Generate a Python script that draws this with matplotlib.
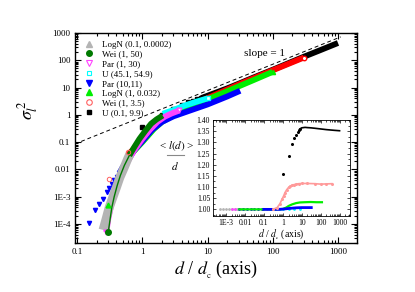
import matplotlib
matplotlib.use("Agg")
import matplotlib.pyplot as plt
from matplotlib.lines import Line2D
from matplotlib.ticker import LogLocator, FixedLocator, FixedFormatter, MultipleLocator, NullFormatter

plt.rcParams['font.family'] = ['Liberation Serif', 'DejaVu Serif']
plt.rcParams['mathtext.fontset'] = 'stix'

# ---- main plot data (sigma_l^2 vs d/d_c) ----
gray_x = [0.25, 0.28, 0.31, 0.35, 0.40, 0.45, 0.52, 0.60, 0.64]
gray_y = [6e-5, 1.6e-4, 4e-4, 9e-4, 2.2e-3, 5e-3, 0.011, 0.025, 0.035]

wei50_x = [0.30, 0.32, 0.34, 0.37, 0.41, 0.46, 0.53, 0.63, 0.75, 0.90, 1.1, 1.36, 1.65, 2.05]
wei50_y = [5e-5, 1.5e-4, 4e-4, 1e-3, 2.5e-3, 6e-3, 0.014, 0.032, 0.065, 0.13, 0.25, 0.47, 0.68, 0.94]

par130_x = [0.28, 0.30, 0.33, 0.37, 0.42, 0.50, 0.60, 0.75, 1.0, 1.3, 1.7, 2.2, 2.8, 3.7]
par130_y = [5e-5, 1.5e-4, 4.5e-4, 1.2e-3, 3e-3, 8e-3, 0.02, 0.05, 0.13, 0.28, 0.55, 0.85, 1.12, 1.44]

u45_x = [2.05, 3.0, 4.4, 6.5, 10.0]
u45_y = [1.09, 1.5, 2.17, 2.95, 4.0]

par1011_sx = [0.154, 0.189, 0.22, 0.25, 0.285, 0.313, 0.344, 0.372, 0.406, 0.445]
par1011_sy = [1.07e-4, 3.1e-4, 5.2e-4, 8.2e-4, 1.5e-3, 2.1e-3, 3e-3, 3.9e-3, 5.2e-3, 7.3e-3]
par1011_x = [0.445, 0.5, 0.6, 0.75, 1.0, 1.4, 2.0, 3.0, 5.0, 10.0, 20.0, 31.6]
par1011_y = [7.3e-3, 0.012, 0.022, 0.05, 0.11, 0.28, 0.55, 0.88, 1.35, 2.4, 4.7, 7.6]

logn1_sx = [0.30]
logn1_sy = [5e-4]
logn1_x = [0.7, 1.0, 1.5, 2.0, 3.0, 5.0, 10.0, 20.0, 50.0, 100.0]
logn1_y = [0.04, 0.1, 0.3, 0.55, 0.95, 1.7, 3.7, 7.3, 18.5, 37.6]

wei35_sx = [0.306, 0.61]
wei35_sy = [4.5e-3, 0.043]
wei35_x = [0.61, 0.8, 1.0, 1.5, 2.0, 3.0, 5.0, 10.0, 30.0, 100.0, 300.0]
wei35_y = [0.035, 0.07, 0.12, 0.35, 0.6, 1.0, 1.8, 4.1, 13.0, 43.0, 126.0]

u01_sx = [1, 2, 3, 4, 5, 6, 7, 8, 9]
u01_sy = [0.35, 1.0, 1.66, 2.3, 2.9, 3.3, 3.7, 4.1, 4.5]
u01_x = [8, 10, 20, 30, 50, 100, 200, 300, 500, 1000]
u01_y = [4.1, 5.0, 9.3, 13.8, 23.0, 45.0, 90.0, 135.0, 220.0, 430.0]

slope_x = [0.092, 1100]
slope_y = [0.085, 720]

# ---- inset data (<l(d)>/d vs d/d_c) ----
in_u01_sx = [1, 2, 3, 4, 5, 6, 7, 8]
in_u01_sy = [1.157, 1.24, 1.292, 1.318, 1.335, 1.347, 1.355, 1.36]
in_u01_x = [8, 10, 15, 20, 30, 50, 100, 200, 500, 1000]
in_u01_y = [1.36, 1.365, 1.367, 1.366, 1.365, 1.363, 1.36, 1.357, 1.354, 1.352]

in_wei35_x = [0.3, 0.5, 0.7, 0.9, 1.1, 1.3, 1.6, 2.0, 2.5, 3.0, 4.0, 5.0, 7.0, 10, 20, 50, 100, 200, 390]
in_wei35_y = [1.0, 1.008, 1.025, 1.045, 1.06, 1.075, 1.088, 1.098, 1.104, 1.108, 1.111, 1.113, 1.115,
              1.116, 1.116, 1.115, 1.113, 1.114, 1.115]

in_logn1_x = [0.005, 0.01, 0.1, 0.5, 1.0, 1.5, 2.0, 3.0, 5.0, 8.0, 14, 30, 60, 117]
in_logn1_y = [1.0, 1.0, 1.0, 1.0, 1.002, 1.008, 1.015, 1.022, 1.028, 1.031, 1.032, 1.033, 1.032, 1.032]

in_par1011_x = [0.1, 0.5, 1.0, 2.0, 5.0, 10, 20, 32]
in_par1011_y = [1.0, 1.0, 1.001, 1.004, 1.007, 1.008, 1.008, 1.008]

in_flat_gray_x = [5e-4, 7e-4, 1e-3, 1.4e-3, 2e-3, 3e-3, 4e-3, 6e-3, 9e-3]
in_flat_mag_x = [2e-3, 3e-3, 5e-3, 8e-3, 0.012, 0.02, 0.03, 0.05, 0.08, 0.15, 0.3, 0.6]
in_flat_blue_x = [5e-3, 8e-3, 0.012, 0.02, 0.03, 0.05, 0.08]
in_flat_cyan_x = [0.2, 0.4, 0.7, 1.0, 2.0, 4.0, 8.0]

legend_labels = ["LogN (0.1, 0.0002)", "Wei (1, 50)", "Par (1, 30)", "U (45.1, 54.9)",
                 "Par (10,11)", "LogN (1, 0.032)", "Wei (1, 3.5)", "U (0.1, 9.9)"]

GRAY = '#b4b4b4'
DKGREEN = '#007a00'
MAG = '#ff44ff'
CYAN = '#00ffff'
BLUE = '#0000ff'
LIME = '#00ee00'
RED = '#ff0000'
PINK = '#ff9a9a'

fig = plt.figure(figsize=(4.15, 2.92), dpi=100)
ax = fig.add_axes([0.181, 0.168, 0.679, 0.719])

lw = 4.2
ax.plot(slope_x, slope_y, ls='--', color='k', lw=0.7, dashes=(4, 3))

# black
ax.plot(u01_x, u01_y, color='k', lw=lw, solid_capstyle='butt')
ax.plot(u01_sx, u01_sy, 's', color='k', ms=2.8, ls='none')
# red
ax.plot(wei35_x, wei35_y, color=RED, lw=lw, solid_capstyle='butt')
ax.plot(wei35_x[-1:], wei35_y[-1:], 'o', mfc='white', mec=RED, ms=3.2, mew=1.0)
# lime
ax.plot(logn1_x, logn1_y, color=LIME, lw=lw, solid_capstyle='butt')
ax.plot(logn1_x[-1:], logn1_y[-1:], '^', color=LIME, ms=3)
# blue
ax.plot(par1011_x, par1011_y, color=BLUE, lw=lw, solid_capstyle='butt')
ax.plot(par1011_sx, par1011_sy, 'v', color=BLUE, ms=3, ls='none')
# cyan
ax.plot(u45_x, u45_y, color=CYAN, lw=lw, solid_capstyle='butt')
ax.plot(u45_x[-1:], u45_y[-1:], 's', mfc='white', mec=CYAN, ms=3.2, mew=1.0)
# magenta
ax.plot(par130_x, par130_y, color=MAG, lw=lw, solid_capstyle='butt')
ax.plot(par130_x[-1:], par130_y[-1:], 'v', mfc='white', mec=MAG, ms=3.4, mew=1.0)
# gray band
ax.plot(gray_x, gray_y, color=GRAY, lw=6.5, solid_capstyle='butt')
# dark green
ax.plot(wei50_x[:8], wei50_y[:8], color=DKGREEN, lw=1.0)
ax.plot(wei50_x[7:], wei50_y[7:], color=DKGREEN, lw=lw, solid_capstyle='butt')
# scattered low-end markers on top
ax.plot(par130_x[:1], par130_y[:1], 'v', color=MAG, ms=3.5)
ax.plot(wei50_x[:1], wei50_y[:1], 'o', color=DKGREEN, ms=4)
ax.plot(logn1_sx, logn1_sy, '^', color=LIME, ms=3.5, ls='none')
ax.plot(wei35_sx, wei35_sy, 'o', mfc='none', mec='#ff6060', ms=3.2, mew=0.7, ls='none')

ax.set_xscale('log')
ax.set_yscale('log')
ax.set_xlim(0.093, 1950)
ax.set_ylim(2e-5, 1000)

xt = [0.1, 1, 10, 100, 1000]
ax.xaxis.set_major_locator(FixedLocator(xt))
ax.xaxis.set_major_formatter(FixedFormatter(["0.1", "1", "10", "100", "1000"]))
ax.xaxis.set_minor_locator(LogLocator(base=10, subs=range(2, 10), numticks=20))
ax.xaxis.set_minor_formatter(NullFormatter())
yt = [1e-4, 1e-3, 0.01, 0.1, 1, 10, 100, 1000]
ax.yaxis.set_major_locator(FixedLocator(yt))
ax.yaxis.set_major_formatter(FixedFormatter(["1E-4", "1E-3", "0.01", "0.1", "1", "10", "100", "1000"]))
ax.yaxis.set_minor_locator(LogLocator(base=10, subs=range(2, 10), numticks=20))
ax.yaxis.set_minor_formatter(NullFormatter())
ax.tick_params(which='both', direction='in', top=True, right=True, labelsize=6.5, width=0.8)
ax.tick_params(which='major', length=4)
ax.tick_params(which='minor', length=2)
for s in ax.spines.values():
    s.set_linewidth(1.0)

ax.set_xlabel(r"$d$ / $d_{_{\rm c}}$ (axis)", fontsize=13, labelpad=2)
ax.set_ylabel(r"$\sigma_l^{\,2}$", fontsize=13)
ax.yaxis.set_label_coords(-0.125, 0.63)
ax.text(0.60, 0.89, "slope = 1", transform=ax.transAxes, fontsize=8)

handles = [
    Line2D([], [], marker='^', color=GRAY, ls='none', ms=4),
    Line2D([], [], marker='o', color=DKGREEN, ls='none', ms=4),
    Line2D([], [], marker='v', mfc='none', mec=MAG, ls='none', ms=4, mew=0.8),
    Line2D([], [], marker='s', mfc='none', mec=CYAN, ls='none', ms=3.5, mew=0.8),
    Line2D([], [], marker='v', color=BLUE, ls='none', ms=4),
    Line2D([], [], marker='^', color=LIME, ls='none', ms=4),
    Line2D([], [], marker='o', mfc='none', mec='#ff6060', ls='none', ms=4, mew=0.8),
    Line2D([], [], marker='s', color='k', ls='none', ms=3.5),
]
ax.legend(handles, legend_labels, loc='upper left', bbox_to_anchor=(0.01, 0.99), frameon=False,
          fontsize=6.5, labelspacing=0.16, handlelength=1.2, handletextpad=0.9, borderaxespad=0.2)

# fraction label
fig.text(177 / 415, 1 - 146 / 292, r"< $l(d)$ >", ha='center', va='center', fontsize=8)
fig.text(175 / 415, 1 - 166 / 292, r"$d$", ha='center', va='center', fontsize=8)
fig.add_artist(Line2D([167 / 415, 184 / 415], [1 - 155 / 292, 1 - 155 / 292],
                      transform=fig.transFigure, color='#888888', lw=0.8))

# ---- inset ----
ins = fig.add_axes([0.513, 0.260, 0.330, 0.329])
ins.plot(in_flat_gray_x, [1.0] * len(in_flat_gray_x), 'o', color=GRAY, ms=1.0, ls='none')
ins.plot(in_flat_mag_x, [1.0] * len(in_flat_mag_x), 'o', color=MAG, ms=1.0, ls='none')
ins.plot(in_flat_blue_x, [1.0] * len(in_flat_blue_x), 'o', color=BLUE, ms=1.0, ls='none')
ins.plot(in_flat_cyan_x, [1.0] * len(in_flat_cyan_x), 'o', color=CYAN, ms=1.0, ls='none')
ins.plot(in_logn1_x, in_logn1_y, color=LIME, lw=1.6)
ins.plot(in_par1011_x, in_par1011_y, color=BLUE, lw=2.0)
ins.plot(in_wei35_x, in_wei35_y, 'o', color=PINK, ms=1.2, lw=1.2, ls='-')
ins.plot(in_u01_sx, in_u01_sy, 'o', color='k', ms=1.2, ls='none')
ins.plot(in_u01_x, in_u01_y, color='k', lw=1.2)

ins.set_xscale('log')
ins.set_xlim(2e-4, 3500)
ins.set_ylim(0.97, 1.40)
ins.xaxis.set_major_locator(FixedLocator([1e-3, 0.01, 0.1, 1, 10, 100, 1000]))
ins.xaxis.set_major_formatter(FixedFormatter(["1E-3", "0.01", "0.1", "1", "10", "100", "1000"]))
ins.xaxis.set_minor_locator(LogLocator(base=10, subs=range(2, 10), numticks=20))
ins.xaxis.set_minor_formatter(NullFormatter())
yt_in = [1.00, 1.05, 1.10, 1.15, 1.20, 1.25, 1.30, 1.35, 1.40]
ins.yaxis.set_major_locator(FixedLocator(yt_in))
ins.yaxis.set_major_formatter(FixedFormatter(["%.2f" % v for v in yt_in]))
ins.yaxis.set_minor_locator(MultipleLocator(0.025))
ins.tick_params(which='both', direction='in', top=True, right=True, labelsize=5.5, width=0.5, pad=2)
ins.tick_params(which='major', length=2.5)
ins.tick_params(which='minor', length=1.3)
for s in ins.spines.values():
    s.set_linewidth(0.6)
ins.set_xlabel(r"$d$ / $d_{_{\rm c}}$ (axis)", fontsize=7, labelpad=1)

fig.savefig("out.png", dpi=100)
